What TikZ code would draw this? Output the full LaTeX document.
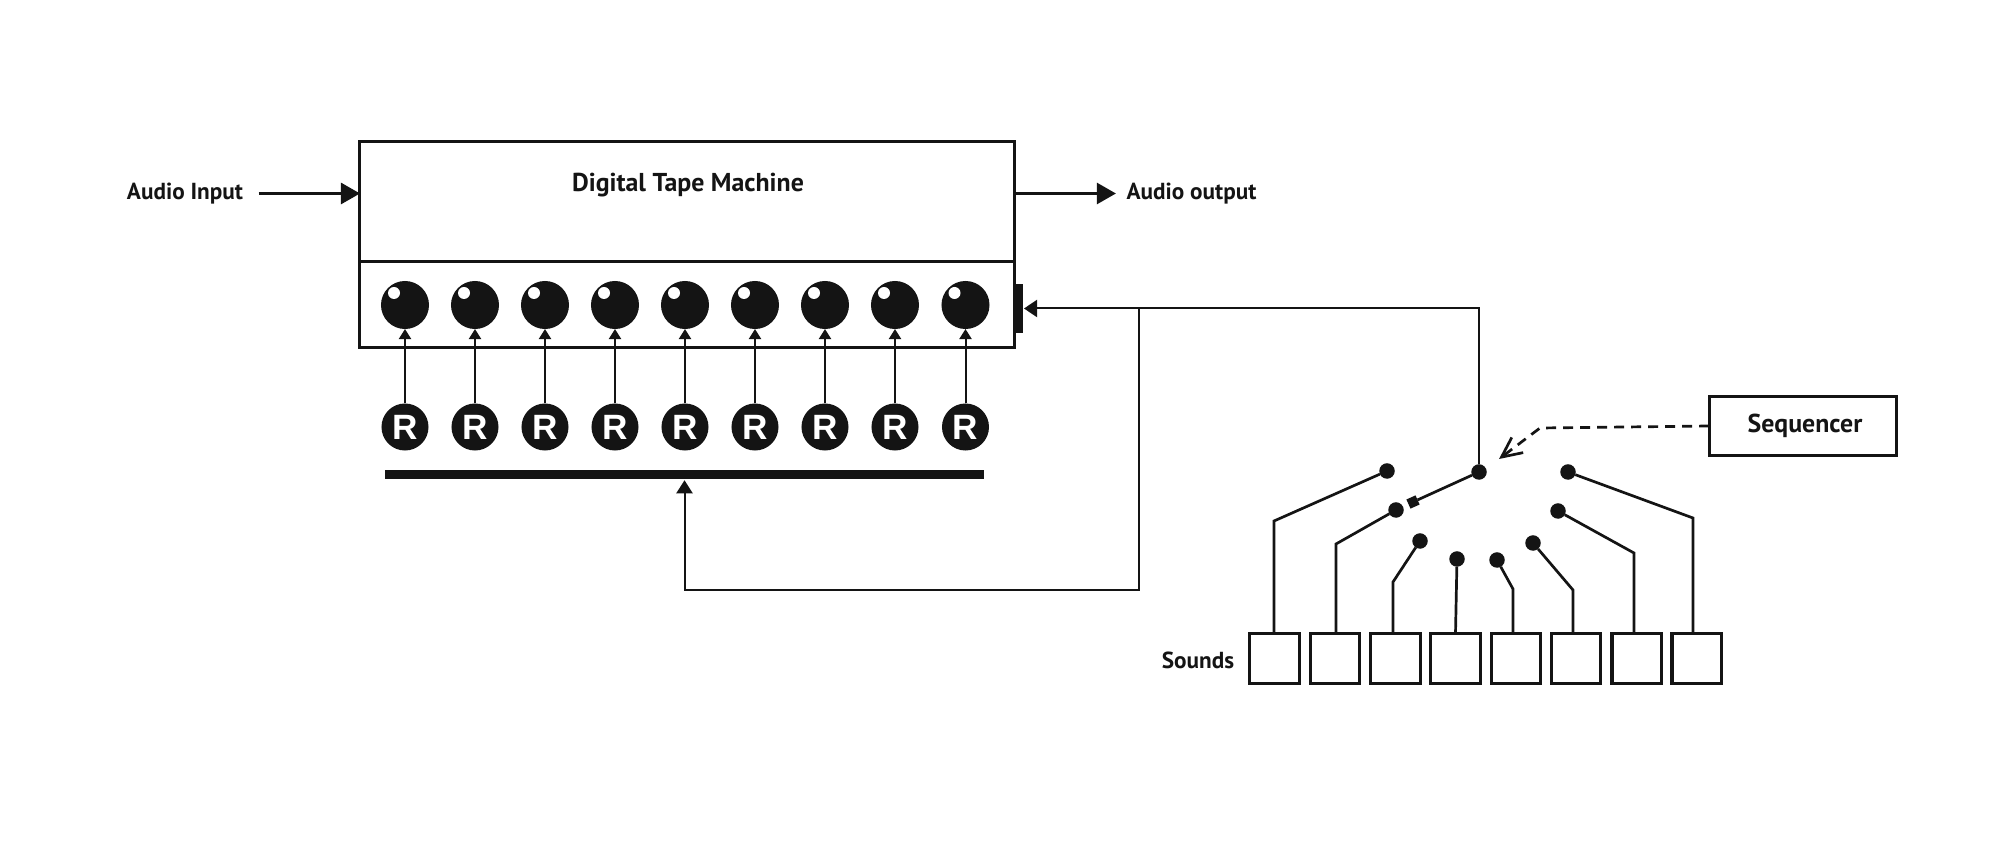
\documentclass[tikz,border=0pt]{standalone}
\usepackage{fontspec}
\setmainfont{PT Sans}
\newfontfamily\rfont{Liberation Sans}
\usetikzlibrary{arrows.meta, positioning}
\definecolor{ink}{HTML}{141414}
\tikzset{
  label/.style={font=\fontsize{6.6}{8}\selectfont\bfseries, text=ink, inner sep=0pt},
  big label/.style={label, font=\fontsize{7.35}{9}\selectfont\bfseries},
  box/.style={draw=ink, line width=0.03cm, fill=white, inner sep=0pt, outer sep=0pt},
  knob/.style={circle, fill=ink, inner sep=0pt, outer sep=0pt, minimum size=0.48cm,
    path picture={\fill[white] ([shift={(-11,-12)}]path picture bounding box.center) circle (6);}},
  rec/.style={circle, fill=ink, inner sep=0pt, outer sep=0pt, minimum size=0.47cm, text=white,
    font=\fontsize{10}{10}\selectfont\rfont\bfseries},
  dot/.style={circle, fill=ink, inner sep=0pt, outer sep=0pt, minimum size=0.155cm},
  sound/.style={box, minimum width=0.49cm, minimum height=0.49cm},
  wire/.style={draw=ink, line width=0.027cm},
  thin wire/.style={draw=ink, line width=0.02cm},
  big tip/.style={-{Triangle[length=0.19cm, width=0.21cm]}},
  small tip/.style={-{Triangle[length=0.1cm, width=0.12cm]}},
}
\begin{document}
\begin{tikzpicture}[x=0.01cm, y=-0.01cm]
  \useasboundingbox (0,0) rectangle (1999,864);
  % Tape machine
  \node[box, minimum width=6.54cm, minimum height=1.2cm] (machine) at (687,202) {};
  \node[box, minimum width=6.54cm, minimum height=0.85cm] (panel) at (687,304.5) {};
  \node[big label] (title) at (688,185) {Digital Tape Machine};
  \node[box, fill=ink, draw=none, minimum width=0.08cm, minimum height=0.49cm] (side) at (1019,308.5) {};
  % Audio in and out
  \node[label] (audioin) at (185,193.5) {Audio Input};
  \node[label] (audioout) at (1191.5,193.5) {Audio output};
  \coordinate (inport) at (360,193.5);
  \coordinate (outport) at (1014,193.5);
  \draw[wire, big tip, shorten <=0.15cm] (audioin.east |- inport) -- (inport);
  \draw[wire, big tip, shorten >=0.1cm] (outport) -- (audioout.west |- outport);
  % Knobs
  \node[knob] (knob1) at (405,305) {}; \node[knob] (knob2) at (475,305) {}; \node[knob] (knob3) at (545,305) {};
  \node[knob] (knob4) at (615,305) {}; \node[knob] (knob5) at (685,305) {}; \node[knob] (knob6) at (755,305) {};
  \node[knob] (knob7) at (825,305) {}; \node[knob] (knob8) at (895,305) {}; \node[knob] (knob9) at (965.5,305) {};
  % Record buttons
  \node[rec] (rec1) at (405,427) {R}; \node[rec] (rec2) at (475,427) {R}; \node[rec] (rec3) at (545,427) {R};
  \node[rec] (rec4) at (615,427) {R}; \node[rec] (rec5) at (685,427) {R}; \node[rec] (rec6) at (755,427) {R};
  \node[rec] (rec7) at (825,427) {R}; \node[rec] (rec8) at (895,427) {R}; \node[rec] (rec9) at (965.5,427) {R};
  \draw[thin wire, small tip] (rec1) -- (knob1); \draw[thin wire, small tip] (rec2) -- (knob2);
  \draw[thin wire, small tip] (rec3) -- (knob3); \draw[thin wire, small tip] (rec4) -- (knob4);
  \draw[thin wire, small tip] (rec5) -- (knob5); \draw[thin wire, small tip] (rec6) -- (knob6);
  \draw[thin wire, small tip] (rec7) -- (knob7); \draw[thin wire, small tip] (rec8) -- (knob8);
  \draw[thin wire, small tip] (rec9) -- (knob9);
  \node[box, fill=ink, draw=none, minimum width=5.98cm, minimum height=0.085cm] (bar) at (684.5,474.5) {};
  % Switch contacts
  \node[dot] (pole) at (1479,472) {};
  \node[box, fill=ink, draw=none, minimum size=0.1cm, rotate=24] (blade) at (1413,502) {};
  \node[dot] (dot1) at (1387,471) {}; \node[dot] (dot2) at (1396,510) {};
  \node[dot] (dot3) at (1420,541) {}; \node[dot] (dot4) at (1457,559) {};
  \node[dot] (dot5) at (1497,560) {}; \node[dot] (dot6) at (1533,543) {};
  \node[dot] (dot7) at (1558,511) {}; \node[dot] (dot8) at (1568,472) {};
  % Sounds
  \node[label] (sounds) at (1198,660) {Sounds};
  \node[sound] (sound1) at (1274.5,658.5) {}; \node[sound] (sound2) at (1335,658.5) {};
  \node[sound] (sound3) at (1395.5,658.5) {}; \node[sound] (sound4) at (1455.5,658.5) {};
  \node[sound] (sound5) at (1516,658.5) {}; \node[sound] (sound6) at (1576,658.5) {};
  \node[sound] (sound7) at (1636.5,658.5) {}; \node[sound] (sound8) at (1696.5,658.5) {};
  % Wires up to the contacts
  \coordinate (knee1) at (1274,521); \coordinate (knee2) at (1336,544);
  \coordinate (knee3) at (1393,582); \coordinate (knee5) at (1513,589);
  \coordinate (knee6) at (1573,590); \coordinate (knee7) at (1634,553);
  \coordinate (knee8) at (1693,518);
  \draw[wire] (dot1) -- (knee1) -- (knee1 |- sound1.north);
  \draw[wire] (dot2) -- (knee2) -- (knee2 |- sound2.north);
  \draw[wire] (dot3) -- (knee3) -- (knee3 |- sound3.north);
  \draw[wire] (dot4) -- (sound4.north);
  \draw[wire] (dot5) -- (knee5) -- (knee5 |- sound5.north);
  \draw[wire] (dot6) -- (knee6) -- (knee6 |- sound6.north);
  \draw[wire] (dot7) -- (knee7) -- (knee7 |- sound7.north);
  \draw[wire] (dot8) -- (knee8) -- (knee8 |- sound8.north);
  \draw[wire] (pole) -- (blade);
  % Feedback from the switch
  \coordinate (junction) at (1139,308.5);
  \coordinate (return) at (684.5,590);
  \draw[thin wire, -{Triangle[length=0.13cm, width=0.17cm]}, shorten >=0.01cm] (pole) |- (side.east);
  \draw[thin wire, -{Triangle[length=0.13cm, width=0.16cm]}, shorten >=0.015cm] (junction) |- (return) -- (bar.south);
  % Sequencer
  \node[box, minimum width=1.875cm, minimum height=0.58cm] (sequencer) at (1803,426) {};
  \node[big label] (seqtext) at (1805,426) {Sequencer};
  \coordinate (bend) at (1540,428);
  \coordinate (target) at (1499,459);
  \draw[wire, dash pattern=on 0.1cm off 0.07cm, -{Straight Barb[length=0.2cm, width=0.19cm]}] (sequencer.west) -- (bend) -- (target);
\end{tikzpicture}
\end{document}
